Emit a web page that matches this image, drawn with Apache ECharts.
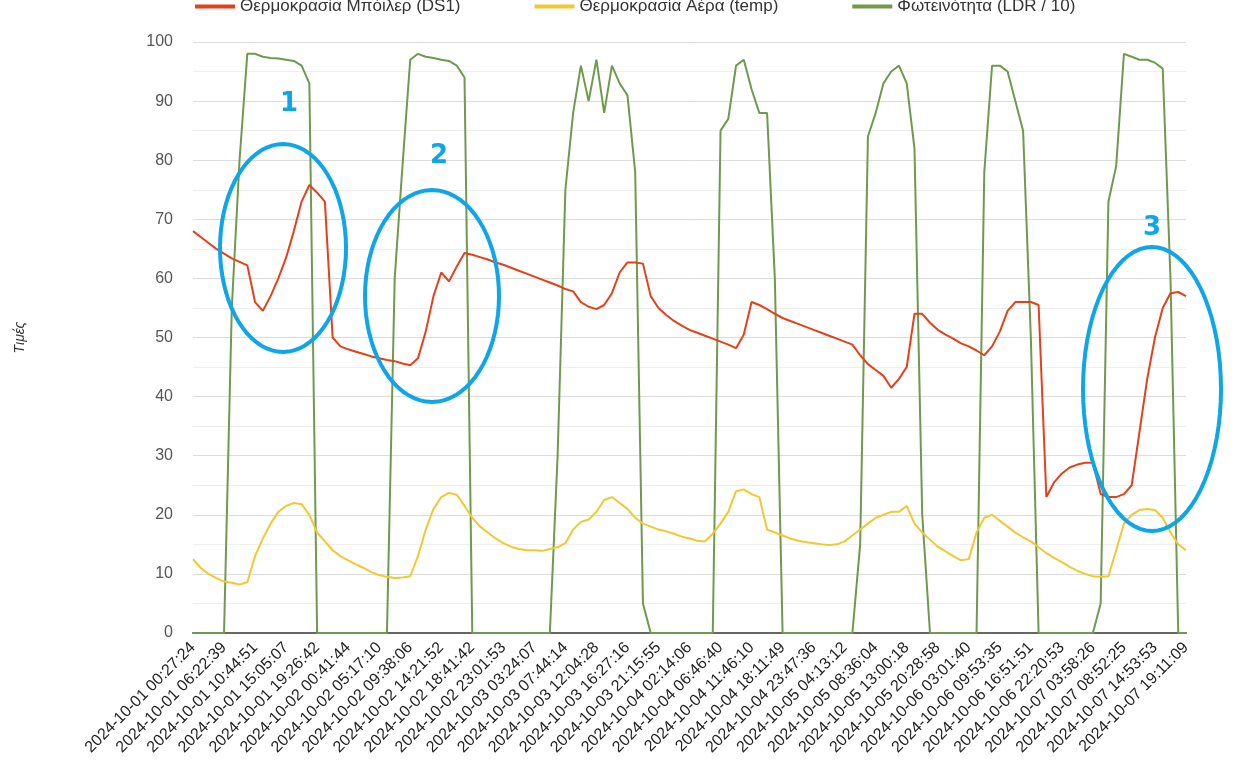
<!DOCTYPE html>
<html>
<head>
<meta charset="utf-8">
<script src="https://cdn.jsdelivr.net/npm/echarts@6/dist/echarts.min.js"></script>
<style>
  html, body { margin: 0; padding: 0; background: #fff; }
  #chart { width: 1249px; height: 765px; }
</style>
</head>
<body>
<div id="chart"></div>
<script>
// tick labels (one every 4 samples)
const tickLabels = [
  '2024-10-01 00:27:24', '2024-10-01 06:22:39', '2024-10-01 10:44:51', '2024-10-01 15:05:07',
  '2024-10-01 19:26:42', '2024-10-02 00:41:44', '2024-10-02 05:17:10', '2024-10-02 09:38:06',
  '2024-10-02 14:21:52', '2024-10-02 18:41:42', '2024-10-02 23:01:53', '2024-10-03 03:24:07',
  '2024-10-03 07:44:14', '2024-10-03 12:04:28', '2024-10-03 16:27:16', '2024-10-03 21:15:55',
  '2024-10-04 02:14:06', '2024-10-04 06:46:40', '2024-10-04 11:46:10', '2024-10-04 18:11:49',
  '2024-10-04 23:47:36', '2024-10-05 04:13:12', '2024-10-05 08:36:04', '2024-10-05 13:00:18',
  '2024-10-05 20:28:58', '2024-10-06 03:01:40', '2024-10-06 09:53:35', '2024-10-06 16:51:51',
  '2024-10-06 22:20:53', '2024-10-07 03:58:26', '2024-10-07 08:52:25', '2024-10-07 14:53:53',
  '2024-10-07 19:11:09'
];
const STEP = 4;

const seriesNames = ['Θερμοκρασία Μπόιλερ (DS1)', 'Θερμοκρασία Αέρα (temp)', 'Φωτεινότητα (LDR / 10)'];

const boiler = [
  68, 67, 66, 65, 64.2, 63.4, 62.8, 62.2, 56, 54.5, 57, 60, 63.5, 68, 73, 75.8, 74.5, 73, 50, 48.5,
  48, 47.6, 47.2, 46.8, 46.5, 46.2, 46, 45.6, 45.3, 46.5, 51, 57, 61, 59.5, 62, 64.3, 64, 63.6, 63.2, 62.7,
  62.3, 61.8, 61.3, 60.8, 60.3, 59.8, 59.3, 58.8, 58.2, 57.8, 56, 55.2, 54.8, 55.5, 57.5, 61, 62.7, 62.7, 62.5, 57,
  55, 53.8, 52.8, 52, 51.3, 50.8, 50.3, 49.8, 49.3, 48.8, 48.2, 50.5, 56, 55.5, 54.8, 54, 53.3, 52.8, 52.3, 51.8,
  51.3, 50.8, 50.3, 49.8, 49.3, 48.8, 47, 45.5, 44.5, 43.5, 41.5, 43, 45, 54, 54, 52.5, 51.3, 50.5, 49.8, 49,
  48.5, 47.8, 47, 48.5, 51, 54.5, 56, 56, 56, 55.5, 23, 25.5, 27, 28, 28.5, 28.8, 28.8, 23.5, 23, 23,
  23.5, 25, 34, 43, 50, 55, 57.5, 57.7, 57
];

const air = [
  12.5, 11, 10, 9.3, 8.7, 8.5, 8.2, 8.6, 13, 16, 18.5, 20.5, 21.5, 22, 21.8, 20, 17, 15.5, 14, 13,
  12.3, 11.6, 11, 10.3, 9.8, 9.5, 9.3, 9.4, 9.6, 13, 17.5, 21, 23, 23.7, 23.4, 21.5, 19.5, 18, 17, 16,
  15.2, 14.6, 14.2, 14, 14, 13.9, 14.2, 14.5, 15.2, 17.5, 18.8, 19.2, 20.5, 22.5, 23, 22, 21, 19.5, 18.5, 18,
  17.5, 17.2, 16.8, 16.3, 16, 15.6, 15.5, 16.8, 18.5, 20.5, 24, 24.3, 23.5, 23, 17.5, 17, 16.5, 16, 15.6, 15.4,
  15.2, 15, 14.9, 15, 15.5, 16.5, 17.5, 18.5, 19.5, 20, 20.5, 20.5, 21.5, 18.5, 17, 15.8, 14.6, 13.8, 13, 12.3,
  12.5, 17, 19.5, 20, 19, 18, 17, 16.2, 15.5, 14.5, 13.5, 12.7, 12, 11.2, 10.5, 10, 9.6, 9.5, 9.6, 14,
  18.5, 20, 20.8, 21, 20.8, 19.5, 17, 15, 14
];

const light = [
  0, 0, 0, 0, 0, 55, 80, 98, 98, 97.5, 97.3, 97.2, 97, 96.8, 96, 93, 0, 0, 0, 0,
  0, 0, 0, 0, 0, 0, 60, 79, 97, 98, 97.5, 97.3, 97, 96.8, 96, 94, 0, 0, 0, 0,
  0, 0, 0, 0, 0, 0, 0, 30, 75, 88, 96, 90, 97, 88, 96, 93, 91, 78, 5, 0,
  0, 0, 0, 0, 0, 0, 0, 0, 85, 87, 96, 97, 92, 88, 88, 60, 0, 0, 0, 0,
  0, 0, 0, 0, 0, 0, 15, 84, 88, 93, 95, 96, 93, 82, 20, 0, 0, 0, 0, 0,
  0, 0, 78, 96, 96, 95, 90, 85, 50, 0, 0, 0, 0, 0, 0, 0, 0, 5, 73, 79,
  98, 97.5, 97, 97, 96.5, 95.5, 60, 0, 0
];

const colors = ['#e4411b', '#f2c832', '#6f9a4c'];

const categories = boiler.map((_, i) => (i % STEP === 0 ? tickLabels[i / STEP] : ''));

// annotation ellipses (pixel space)
function ellipse(cx, cy, rx, ry) {
  const pts = [];
  for (let k = 0; k < 72; k++) {
    const a = (k / 72) * Math.PI * 2;
    pts.push([cx + rx * Math.cos(a), cy + ry * Math.sin(a)]);
  }
  return pts;
}
const marks = [
  { cx: 283, cy: 248, rx: 63, ry: 104, label: '1', lx: 289, ly: 104 },
  { cx: 432, cy: 296, rx: 67, ry: 106, label: '2', lx: 439, ly: 156 },
  { cx: 1152, cy: 389, rx: 69, ry: 142, label: '3', lx: 1152, ly: 228 },
];
const graphics = [];
marks.forEach(m => {
  graphics.push({
    type: 'polygon', z: 100, silent: true,
    shape: { points: ellipse(m.cx, m.cy, m.rx, m.ry) },
    style: { fill: 'none', stroke: '#0ea5e9', lineWidth: 4 },
  });
  graphics.push({
    type: 'text', z: 100, x: m.lx, y: m.ly,
    style: { text: m.label, fill: '#0ea5e9', font: 'bold 26px "DejaVu Sans", sans-serif', align: 'center', verticalAlign: 'middle' },
  });
});

const chart = echarts.init(document.getElementById('chart'));
chart.setOption({
  animation: false,
  color: colors,
  textStyle: { fontFamily: 'Liberation Sans, Arial, sans-serif' },
  legend: {
    top: -7,
    left: 190,
    itemGap: 74,
    itemWidth: 40,
    itemHeight: 4,
    icon: 'rect',
    textStyle: { fontSize: 17, color: '#333' },
    data: seriesNames,
  },
  grid: { left: 193, right: 63, top: 42, bottom: 132 },
  xAxis: {
    type: 'category',
    boundaryGap: false,
    data: categories,
    axisLine: { lineStyle: { color: '#666', width: 2 } },
    axisTick: { show: false },
    axisLabel: { interval: STEP - 1, rotate: 45, fontSize: 16, color: '#222', margin: 12 },
    splitLine: { show: false },
  },
  yAxis: {
    type: 'value',
    min: 0, max: 100, interval: 10,
    name: 'Τιμές',
    nameLocation: 'middle',
    nameGap: 166,
    nameTextStyle: { fontStyle: 'italic', fontSize: 14, color: '#333' },
    axisLine: { show: false },
    axisTick: { show: false },
    axisLabel: { fontSize: 16, color: '#555', margin: 20 },
    splitLine: { lineStyle: { color: '#ddd' } },
    minorTick: { show: false, splitNumber: 2 },
    minorSplitLine: { show: true, lineStyle: { color: '#eee' } },
  },
  series: [
    { name: seriesNames[0], type: 'line', data: boiler, showSymbol: false, lineStyle: { width: 2 }, z: 3 },
    { name: seriesNames[1], type: 'line', data: air, showSymbol: false, lineStyle: { width: 2 }, z: 2 },
    { name: seriesNames[2], type: 'line', data: light, showSymbol: false, lineStyle: { width: 2 }, z: 1 },
  ],
  graphic: graphics,
});
window.addEventListener('resize', () => chart.resize());
</script>
</body>
</html>
